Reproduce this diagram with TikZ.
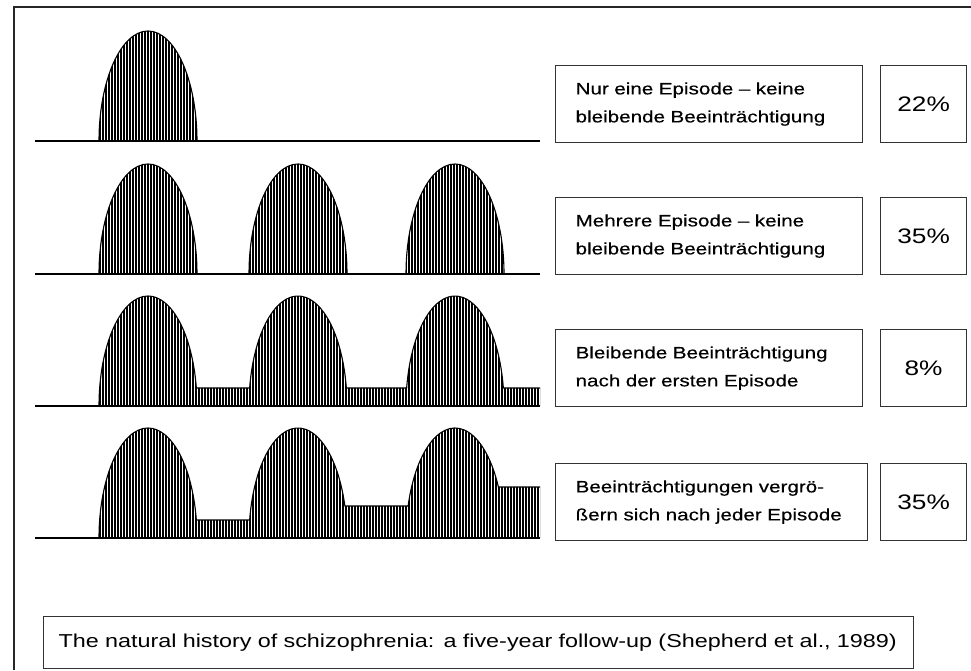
\documentclass[tikz,border=0pt]{standalone}
\usepackage{fontspec}
\setmainfont{Liberation Sans}
\newfontfamily\wide[FakeStretch=1.25]{Liberation Sans}
\newfontfamily\widebold[FakeStretch=1.25,FakeBold=0.35]{Liberation Sans}
\begin{document}
\begin{tikzpicture}[x=1pt,y=1pt,
  frame/.style={draw=black!85, line width=1.4pt},
  baseline/.style={draw=black, line width=1.3pt},
  hatch/.style={draw=black, line width=1.4pt},
  outline/.style={draw=black, line width=1.1pt},
  txtbox/.style={draw=black!80, line width=1.2pt, anchor=north west, inner xsep=20pt, inner ysep=0pt,
    minimum height=77pt, align=left, font=\widebold\fontsize{16.5}{28}\selectfont},
  pctbox/.style={draw=black!80, line width=1.2pt, anchor=north west, minimum width=86pt,
    minimum height=77pt, inner sep=0pt, font=\wide\fontsize{21}{25}\selectfont},
  capbox/.style={draw=black!80, line width=1.2pt, anchor=south west, minimum width=870pt,
    minimum height=52pt, inner xsep=15pt, inner ysep=0pt, text width=840pt, align=left,
    font=\wide\fontsize{18.7}{22}\selectfont},
]
\useasboundingbox (0,0) rectangle (971,670);
% outer frame (cut at right and bottom)
\draw[frame] (14,0) -- (14,663) -- (971,663);

% ---------- Row 1 ----------
\begin{scope}
  \clip (99,529) arc[start angle=180,end angle=0,x radius=49,y radius=110] -- cycle;
  \foreach \x in {100,103,...,198} \draw[hatch] (\x,529) -- (\x,640);
\end{scope}
\draw[outline] (99,529) arc[start angle=180,end angle=0,x radius=49,y radius=110];
\draw[baseline] (35,529) -- (540,529);

% ---------- Row 2 ----------
\begin{scope}
  \clip (99,396) arc[start angle=180,end angle=0,x radius=49,y radius=110] -- cycle
        (249,396) arc[start angle=180,end angle=0,x radius=49,y radius=110] -- cycle
        (406,396) arc[start angle=180,end angle=0,x radius=49,y radius=110] -- cycle;
  \foreach \x in {100,103,...,505} \draw[hatch] (\x,396) -- (\x,507);
\end{scope}
\draw[outline] (99,396) arc[start angle=180,end angle=0,x radius=49,y radius=110]
               (249,396) arc[start angle=180,end angle=0,x radius=49,y radius=110]
               (406,396) arc[start angle=180,end angle=0,x radius=49,y radius=110];
\draw[baseline] (35,396) -- (540,396);

% ---------- Row 3 ----------
\begin{scope}
  \clip (99,264) arc[start angle=180,end angle=9.42,x radius=49,y radius=110]
     -- ([shift={(298,264)}]170.58:49 and 110) arc[start angle=170.58,end angle=9.42,x radius=49,y radius=110]
     -- ([shift={(455,264)}]170.58:49 and 110) arc[start angle=170.58,end angle=9.42,x radius=49,y radius=110]
     -- (540,282) -- (540,264) -- cycle;
  \foreach \x in {100,103,...,541} \draw[hatch] (\x,264) -- (\x,375);
\end{scope}
\draw[outline] (99,264) arc[start angle=180,end angle=9.42,x radius=49,y radius=110]
     -- ([shift={(298,264)}]170.58:49 and 110) arc[start angle=170.58,end angle=9.42,x radius=49,y radius=110]
     -- ([shift={(455,264)}]170.58:49 and 110) arc[start angle=170.58,end angle=9.42,x radius=49,y radius=110]
     -- (540,282);
\draw[baseline] (35,264) -- (540,264);

% ---------- Row 4 ----------
\begin{scope}
  \clip (99,132) arc[start angle=180,end angle=9.42,x radius=49,y radius=110]
     -- ([shift={(298,132)}]170.58:49 and 110) arc[start angle=170.58,end angle=16.91,x radius=49,y radius=110]
     -- ([shift={(455,132)}]163.09:49 and 110) arc[start angle=163.09,end angle=27.62,x radius=49,y radius=110]
     -- (540,183) -- (540,132) -- cycle;
  \foreach \x in {100,103,...,541} \draw[hatch] (\x,132) -- (\x,243);
\end{scope}
\draw[outline] (99,132) arc[start angle=180,end angle=9.42,x radius=49,y radius=110]
     -- ([shift={(298,132)}]170.58:49 and 110) arc[start angle=170.58,end angle=16.91,x radius=49,y radius=110]
     -- ([shift={(455,132)}]163.09:49 and 110) arc[start angle=163.09,end angle=27.62,x radius=49,y radius=110]
     -- (540,183);
\draw[baseline] (35,132) -- (540,132);

% ---------- Text boxes ----------
\node[txtbox, text width=267pt] (t1) at (555,605) {Nur eine Episode – keine\\bleibende Beeinträchtigung};
\node[pctbox] (p1) at (880,605) {22\%};
\node[txtbox, text width=267pt] (t2) at (555,473) {Mehrere Episode – keine\\bleibende Beeinträchtigung};
\node[pctbox] (p2) at (880,473) {35\%};
\node[txtbox, text width=267pt] (t3) at (555,341) {Bleibende Beeinträchtigung\\nach der ersten Episode};
\node[pctbox] (p3) at (880,341) {8\%};
\node[txtbox, text width=272pt] (t4) at (555,207) {Beeinträchtigungen vergrö-\\ßern sich nach jeder Episode};
\node[pctbox] (p4) at (880,207) {35\%};

% ---------- Caption ----------
\node[capbox] (cap) at (43,1) {The natural history of schizophrenia: a five-year follow-up (Shepherd et al., 1989)};
\end{tikzpicture}
\end{document}
